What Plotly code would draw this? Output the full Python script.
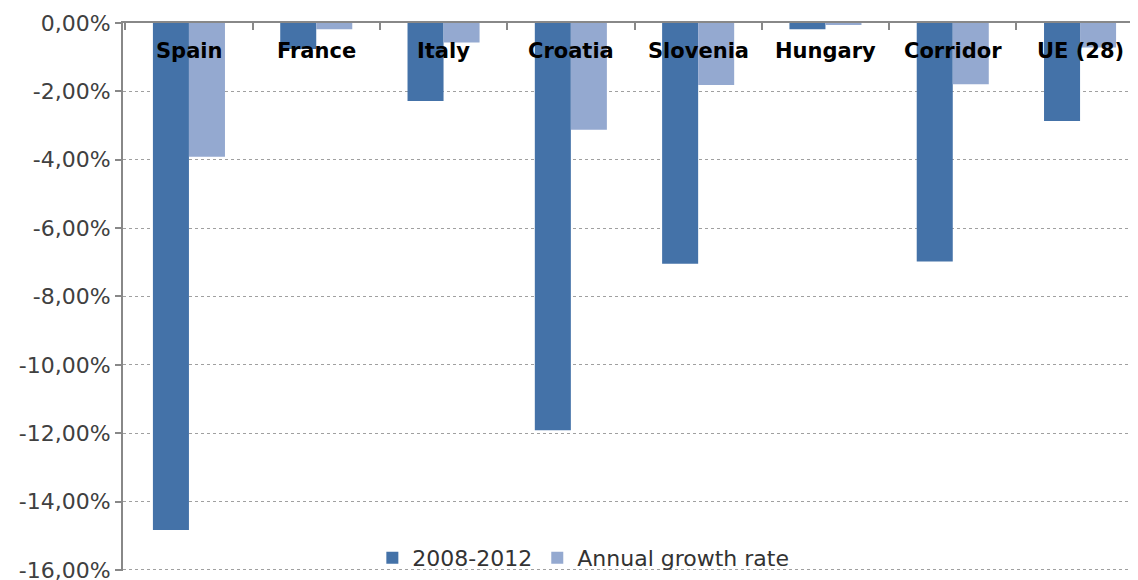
import plotly.graph_objects as go

categories = ["Spain", "France", "Italy", "Croatia", "Slovenia", "Hungary", "Corridor", "UE (28)"]
period_2008_2012 = [-14.83, -0.76, -2.28, -11.91, -7.04, -0.18, -6.98, -2.87]
annual_growth = [-3.91, -0.18, -0.57, -3.12, -1.81, -0.05, -1.79, -0.72]
tick_values = [0, -2, -4, -6, -8, -10, -12, -14, -16]
tick_labels = ["0,00%", "-2,00%", "-4,00%", "-6,00%", "-8,00%", "-10,00%", "-12,00%", "-14,00%", "-16,00%"]
label_level = -0.82

fig = go.Figure()
fig.add_trace(go.Bar(x=categories, y=period_2008_2012, name="2008-2012",
                     marker=dict(color="#4472A8", line=dict(width=0))))
fig.add_trace(go.Bar(x=categories, y=annual_growth, name="Annual growth rate",
                     marker=dict(color="#94A9D0", line=dict(width=0))))

for c in categories:
    fig.add_annotation(x=c, y=label_level, text="<b>%s</b>" % c, showarrow=False,
                       font=dict(family="DejaVu Sans", size=21, color="#000000"),
                       xanchor="center", yanchor="middle")

fig.update_layout(
    width=1138, height=580,
    margin=dict(l=115, r=0, t=15, b=17, autoexpand=False),
    paper_bgcolor="white", plot_bgcolor="white",
    barmode="group", bargap=0.434, bargroupgap=0,
    font=dict(family="DejaVu Sans", color="#404040"),
    showlegend=True,
    legend=dict(orientation="h", x=0.45, xanchor="center", y=0.024, yanchor="middle",
                font=dict(size=22, color="#333333"), bgcolor="rgba(0,0,0,0)",
                itemwidth=30, tracegroupgap=0),
    xaxis=dict(side="top", showline=True, linecolor="#888888", linewidth=2,
               ticks="inside", ticklen=7, tickcolor="#888888", tickwidth=1.5,
               tickson="boundaries", showticklabels=False, showgrid=False,
               range=[-0.518, 7.518], zeroline=False, automargin=False),
    yaxis=dict(range=[-16.03, 0], tickvals=tick_values, ticktext=tick_labels,
               showline=True, linecolor="#888888", linewidth=2,
               ticks="outside", ticklen=6, tickcolor="#888888", tickwidth=1.5,
               showgrid=True, gridcolor="#A0A0A0", griddash="dot", gridwidth=1,
               tickfont=dict(size=22, color="#404040"), zeroline=False, automargin=False),
)

fig.write_html("out.html")
